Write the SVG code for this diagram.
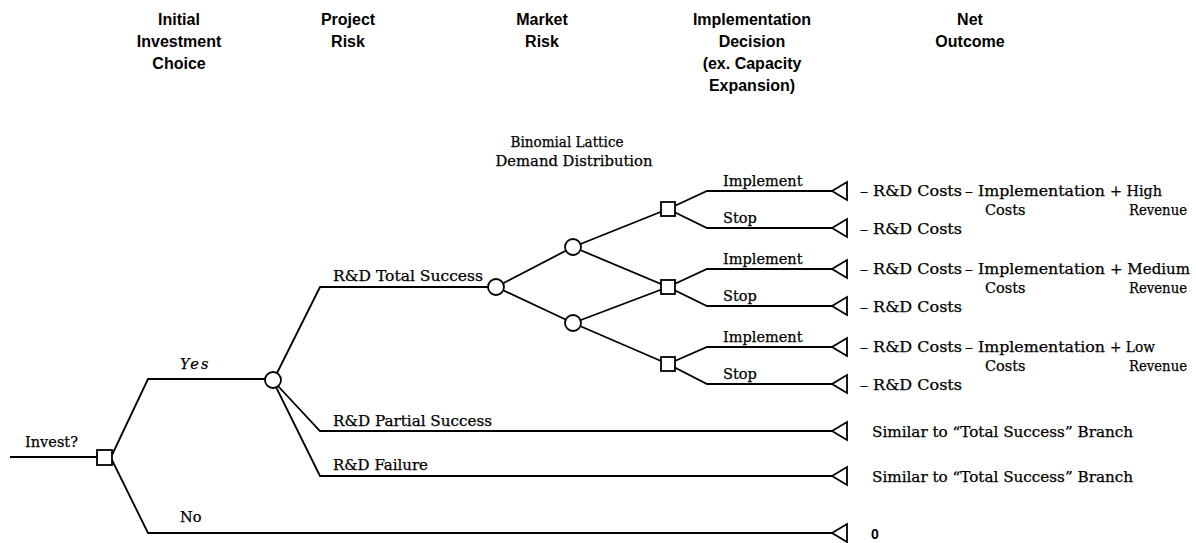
<svg xmlns="http://www.w3.org/2000/svg" width="1196" height="543" viewBox="0 0 1196 543">
<style>
.hd{font-family:"Liberation Sans",Arial,sans-serif;font-weight:bold;font-size:16px;text-anchor:middle;fill:#000}
.t{font-family:"DejaVu Serif","Liberation Serif",serif;font-size:14.5px;fill:#000;stroke:#000;stroke-width:0.25}
.ln{fill:none;stroke:#000;stroke-width:1.8;stroke-linejoin:miter}
.nd{fill:#fff;stroke:#000;stroke-width:1.8}
</style>
<defs>
<path id="tri" d="M0,0 L15,-9 L15,9 Z" class="nd"/>
</defs>
<rect width="1196" height="543" fill="#fff"/>

<g id="headers">
<text class="hd" x="179" y="25">Initial</text>
<text class="hd" x="179" y="47">Investment</text>
<text class="hd" x="179" y="69">Choice</text>
<text class="hd" x="348" y="25">Project</text>
<text class="hd" x="348" y="47">Risk</text>
<text class="hd" x="542" y="25">Market</text>
<text class="hd" x="542" y="47">Risk</text>
<text class="hd" x="752" y="25">Implementation</text>
<text class="hd" x="752" y="47">Decision</text>
<text class="hd" x="752" y="69">(ex. Capacity</text>
<text class="hd" x="752" y="91">Expansion)</text>
<text class="hd" x="970" y="25">Net</text>
<text class="hd" x="970" y="47">Outcome</text>
</g>

<g id="connectors">
<path class="ln" d="M10,457 H97"/>
<path class="ln" d="M112,455 L148,379 H265"/>
<path class="ln" d="M112,460 L148,533 H832"/>
<path class="ln" d="M277,373 L320,287 H488"/>
<path class="ln" d="M278,386 L320,431 H832"/>
<path class="ln" d="M276,387 L320,476 H832"/>
<path class="ln" d="M496,287 L573,247 L668,209"/>
<path class="ln" d="M496,287 L573,323 L668,364"/>
<path class="ln" d="M573,247 L668,287 L573,323"/>
<path class="ln" d="M668,209 L707,191 H832 M668,209 L707,228 H832"/>
<path class="ln" d="M668,287 L707,269 H832 M668,287 L707,306 H832"/>
<path class="ln" d="M668,364 L707,347 H832 M668,364 L707,384 H832"/>
</g>

<g id="n-invest"><rect class="nd" x="97" y="450" width="15" height="15"/></g>
<g id="n-project"><circle class="nd" cx="273" cy="380" r="8"/></g>
<g id="n-market"><circle class="nd" cx="496" cy="287" r="8"/></g>
<g id="n-up"><circle class="nd" cx="573" cy="247" r="8"/></g>
<g id="n-down"><circle class="nd" cx="573" cy="323" r="8"/></g>
<g id="n-dec1"><rect class="nd" x="661" y="202" width="14" height="14"/></g>
<g id="n-dec2"><rect class="nd" x="661" y="280" width="14" height="14"/></g>
<g id="n-dec3"><rect class="nd" x="661" y="357" width="14" height="14"/></g>

<g id="terminals">
<use href="#tri" x="832" y="191"/>
<use href="#tri" x="832" y="228"/>
<use href="#tri" x="832" y="269"/>
<use href="#tri" x="832" y="306"/>
<use href="#tri" x="832" y="347"/>
<use href="#tri" x="832" y="384"/>
<use href="#tri" x="832" y="431"/>
<use href="#tri" x="832" y="476"/>
<use href="#tri" x="832" y="533"/>
</g>

<g id="branch-labels">
<text class="t" x="25" y="447" textLength="53" lengthAdjust="spacingAndGlyphs">Invest?</text>
<text class="t" x="180" y="369" font-style="italic" letter-spacing="2">Yes</text>
<text class="t" x="180" y="522">No</text>
<text class="t" x="333" y="281" textLength="150" lengthAdjust="spacingAndGlyphs">R&amp;D Total Success</text>
<text class="t" x="333" y="426" textLength="159" lengthAdjust="spacingAndGlyphs">R&amp;D Partial Success</text>
<text class="t" x="333" y="470" textLength="95" lengthAdjust="spacingAndGlyphs">R&amp;D Failure</text>
<text class="t" x="567" y="147" text-anchor="middle" textLength="113" lengthAdjust="spacingAndGlyphs">Binomial Lattice</text>
<text class="t" x="574" y="166" text-anchor="middle" textLength="157" lengthAdjust="spacingAndGlyphs">Demand Distribution</text>
<text class="t" x="723" y="186">Implement</text>
<text class="t" x="723" y="223">Stop</text>
<text class="t" x="723" y="264">Implement</text>
<text class="t" x="723" y="301">Stop</text>
<text class="t" x="723" y="342">Implement</text>
<text class="t" x="723" y="379">Stop</text>
</g>

<g id="outcomes">
<text class="t" x="860" y="196" textLength="102" lengthAdjust="spacingAndGlyphs">– R&amp;D Costs</text>
<text class="t" x="965" y="196" textLength="140" lengthAdjust="spacingAndGlyphs">– Implementation</text>
<text class="t" x="1110" y="196" textLength="52" lengthAdjust="spacingAndGlyphs">+ High</text>
<text class="t" x="985" y="215">Costs</text>
<text class="t" x="1129" y="215" textLength="58" lengthAdjust="spacingAndGlyphs">Revenue</text>
<text class="t" x="860" y="234" textLength="102" lengthAdjust="spacingAndGlyphs">– R&amp;D Costs</text>

<text class="t" x="860" y="274" textLength="102" lengthAdjust="spacingAndGlyphs">– R&amp;D Costs</text>
<text class="t" x="965" y="274" textLength="140" lengthAdjust="spacingAndGlyphs">– Implementation</text>
<text class="t" x="1110" y="274" textLength="80" lengthAdjust="spacingAndGlyphs">+ Medium</text>
<text class="t" x="985" y="293">Costs</text>
<text class="t" x="1129" y="293" textLength="58" lengthAdjust="spacingAndGlyphs">Revenue</text>
<text class="t" x="860" y="312" textLength="102" lengthAdjust="spacingAndGlyphs">– R&amp;D Costs</text>

<text class="t" x="860" y="352" textLength="102" lengthAdjust="spacingAndGlyphs">– R&amp;D Costs</text>
<text class="t" x="965" y="352" textLength="140" lengthAdjust="spacingAndGlyphs">– Implementation</text>
<text class="t" x="1110" y="352" textLength="45" lengthAdjust="spacingAndGlyphs">+ Low</text>
<text class="t" x="985" y="371">Costs</text>
<text class="t" x="1129" y="371" textLength="58" lengthAdjust="spacingAndGlyphs">Revenue</text>
<text class="t" x="860" y="390" textLength="102" lengthAdjust="spacingAndGlyphs">– R&amp;D Costs</text>

<text class="t" x="872" y="437" textLength="261" lengthAdjust="spacingAndGlyphs">Similar to “Total Success” Branch</text>
<text class="t" x="872" y="482" textLength="261" lengthAdjust="spacingAndGlyphs">Similar to “Total Success” Branch</text>
<text x="871" y="539" font-family="Liberation Sans, Arial, sans-serif" font-size="14px" font-weight="bold">0</text>
</g>
</svg>
